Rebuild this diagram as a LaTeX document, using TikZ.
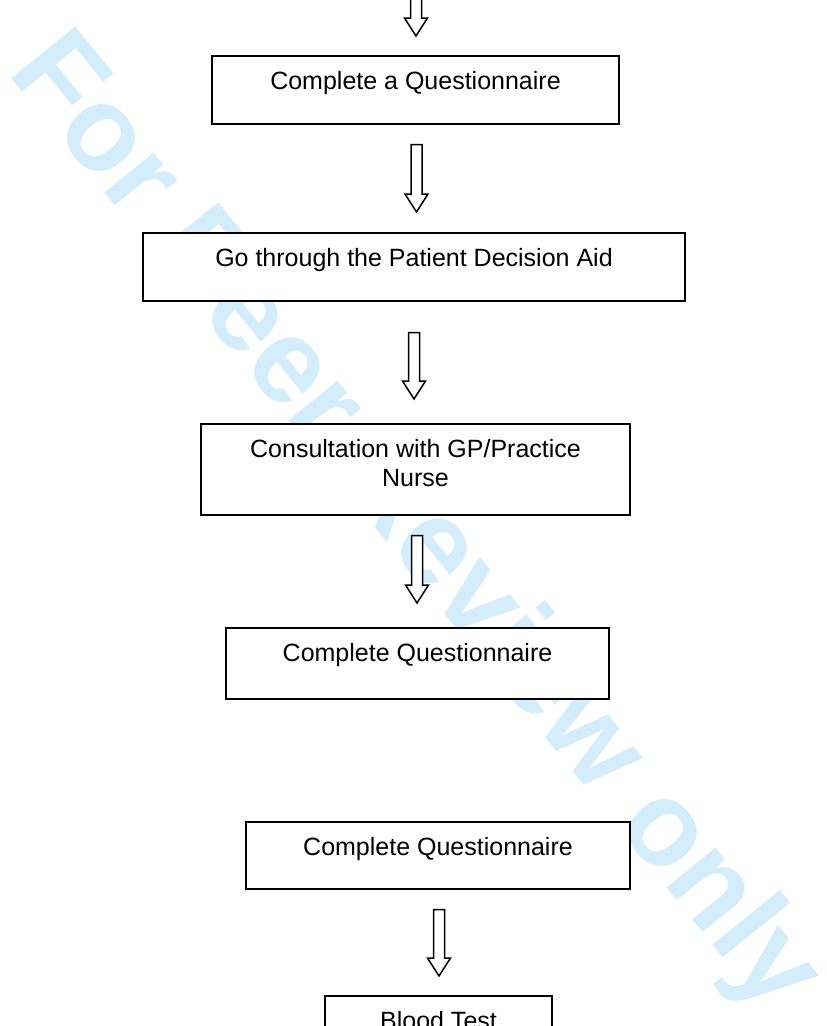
\documentclass[tikz,border=0pt]{standalone}
\usepackage{fontspec}
\setmainfont{Liberation Sans}
\usetikzlibrary{calc}
\definecolor{wmblue}{RGB}{212,237,251}
\tikzset{
  stepbox/.style={draw, fill=white, line width=1.5pt, anchor=north, inner sep=0pt,
    align=center, text height=34pt, font=\fontsize{25}{29}\selectfont},
  fatarrow/.style={fill=white, line width=1.5pt, line join=miter,
    to path={let \p1=(\tikztostart), \p2=(\tikztotarget) in
      (\x1-5.5pt,\y1) -- (\x1+5.5pt,\y1) -- (\x1+5.5pt,\y2+18pt) -- (\x1+11.5pt,\y2+18pt)
      -- (\x1,\y2) -- (\x1-11.5pt,\y2+18pt) -- (\x1-5.5pt,\y2+18pt) -- cycle}}
}
\begin{document}
\begin{tikzpicture}[x=1pt,y=-1pt]
  \useasboundingbox (0,0) rectangle (827,1026);
  \clip (0,0) rectangle (827,1026);
  \node[wmblue, rotate=-51, inner sep=0pt, font=\fontsize{120}{120}\selectfont\bfseries] (mark) at (413,525) {For Peer Review only};

  \node[stepbox, minimum width=407pt, text depth=34pt] (quest1) at (415.5,55) {Complete a Questionnaire};
  \node[stepbox, minimum width=542pt, text depth=34pt] (aid) at (414,232) {Go through the Patient Decision Aid};
  \node[stepbox, minimum width=429pt, text height=63pt, text depth=28pt] (consult) at (415.5,423) {Consultation with GP/Practice\\Nurse};
  \node[stepbox, minimum width=383pt, text depth=37pt] (quest2) at (417.5,627) {Complete Questionnaire};
  \node[stepbox, minimum width=384pt, text depth=33pt] (quest3) at (438,821) {Complete Questionnaire};
  \node[stepbox, minimum width=227pt, text depth=34pt] (blood) at (438.5,995) {Blood Test};

  \coordinate (entry) at (416,-20);
  \draw[fatarrow] (entry) to ([yshift=19pt]quest1.north);
  \draw[fatarrow] ([xshift=1pt,yshift=-20pt]quest1.south) to ([yshift=20pt]aid.north);
  \draw[fatarrow] ([yshift=-31pt]aid.south) to ([yshift=24pt]consult.north);
  \draw[fatarrow] ([xshift=1.5pt,yshift=-20pt]consult.south) to ([yshift=24pt]quest2.north);
  \draw[fatarrow] ([xshift=1pt,yshift=-20pt]quest3.south) to ([yshift=19pt]blood.north);
\end{tikzpicture}
\end{document}
